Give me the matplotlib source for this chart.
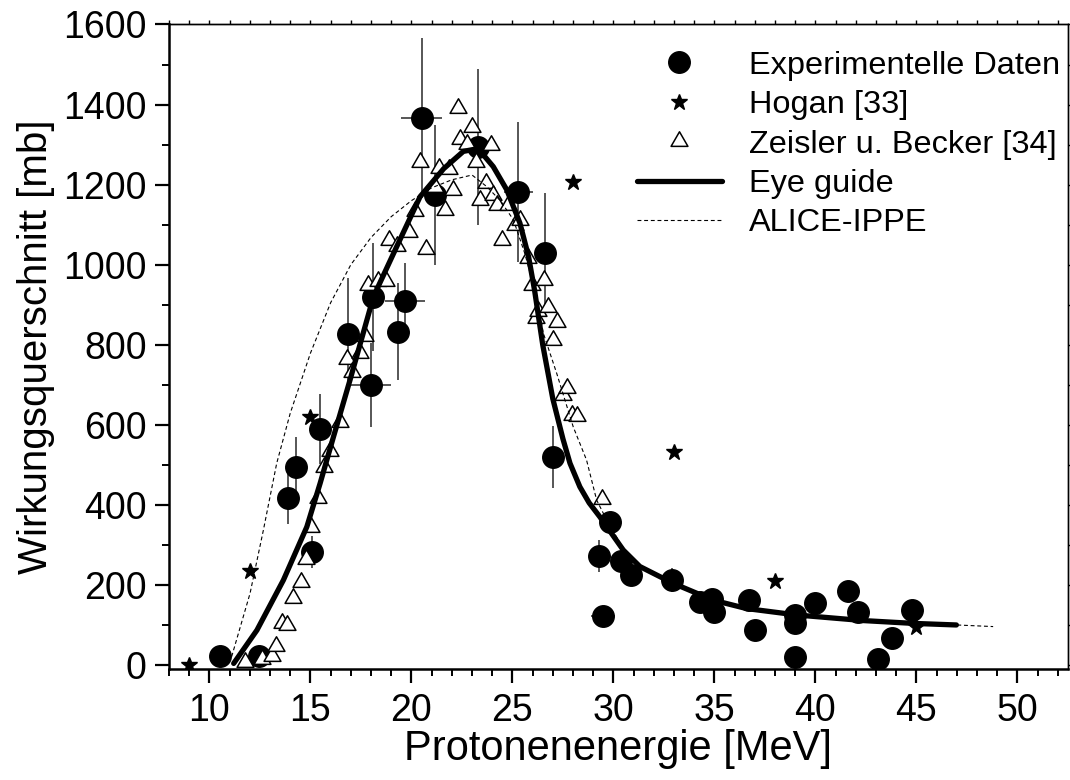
import numpy as np
import matplotlib.pyplot as plt
from matplotlib.path import Path

plt.rcParams['font.family'] = ['Liberation Sans', 'DejaVu Sans']

# Experimentelle Daten (mit Fehlerbalken)
exp_x = [10.5, 12.45, 13.9, 14.27, 15.07, 15.48, 16.87, 18.0, 18.1, 19.33, 19.69,
         20.5, 21.18, 23.3, 25.3, 26.6, 27.0, 29.3, 29.5, 29.82, 30.36, 30.85,
         32.9, 34.28, 34.9, 35.0, 36.7, 37.0, 39.0, 39.0, 39.0, 40.0, 41.6, 42.1,
         43.1, 43.8, 44.8]
exp_y = [22, 22, 416, 494, 283, 590, 826, 700, 920, 833, 910,
         1366, 1174, 1295, 1182, 1030, 520, 272, 122, 358, 260, 225,
         212, 158, 166, 133, 162, 87, 125, 104, 21, 154, 185, 133,
         14, 67, 137]
exp_dy = [0, 0, 65, 75, 40, 88, 140, 105, 135, 120, 95,
          200, 175, 195, 175, 150, 78, 40, 0, 20, 0, 10,
          30, 0, 0, 0, 0, 0, 0, 0, 0, 0, 0, 0,
          0, 0, 0]
exp_dx = [0, 0, 0, 0, 0, 0, 0, 1.0, 0, 0, 1.0,
          1.0, 0, 0, 0.7, 0, 0, 0, 0.6, 0.3, 0, 0,
          0.3, 0, 0, 0, 0, 0, 0, 0, 0, 0, 0, 0,
          0, 0, 0]

# Hogan [33]
hog_x = [9, 12, 15, 28, 33, 38, 45]
hog_y = [0, 236, 619, 1207, 533, 210, 96]

# Zeisler u. Becker [34]
zb_x = [11.77, 12.6, 13.09, 13.29, 13.58, 13.83, 14.16, 14.52, 14.77, 15.05,
        15.39, 15.68, 15.97, 16.47, 16.8, 17.05, 17.43, 17.7, 17.83, 18.32,
        18.73, 18.9, 19.28, 19.89, 20.18, 20.43, 20.72, 21.15, 21.36, 21.66,
        21.86, 22.08, 22.3, 22.4, 22.75, 23.0, 23.19, 23.4, 23.69, 23.94,
        24.02, 24.22, 24.47, 24.79, 25.12, 25.37, 25.79, 25.96, 26.17, 26.28,
        26.58, 26.77, 26.99, 27.19, 27.52, 27.69, 27.93, 28.18, 29.42]
zb_y = [8, 14, 22, 48, 104, 100, 167, 208, 266, 345,
        416, 494, 535, 608, 765, 733, 779, 822, 949, 958,
        958, 1062, 1047, 1082, 1135, 1257, 1038, 1195, 1241, 1137,
        1240, 1187, 1391, 1313, 1302, 1345, 1257, 1162, 1204, 1299,
        1175, 1150, 1062, 1150, 1099, 1112, 1016, 949, 866, 885,
        962, 895, 812, 858, 675, 691, 625, 621, 414]

# Eye guide
eye_x = [11.2, 12.35, 13.66, 14.82, 15.48, 16.14, 16.96, 18.12, 19.27, 20.43,
         21.6, 22.57, 23.3, 24.05, 24.72, 25.37, 25.8, 26.1, 26.5, 27.0,
         27.5, 27.85, 28.34, 28.8, 29.33, 30.49, 31.31, 32.96, 34.94, 36.59,
         39.07, 42.36, 44.83, 46.98]
eye_y = [4, 87, 212, 345, 454, 570, 712, 920, 1045, 1170,
         1240, 1283, 1290, 1245, 1187, 1104, 1020, 935, 800, 665,
         565, 504, 445, 405, 370, 287, 246, 204, 162, 141,
         125, 111, 104, 100]

# ALICE-IPPE
al_x = [11.1, 12.01, 12.67, 13.33, 14.0, 15.0, 16.0, 17.0, 18.0, 19.0,
        20.0, 21.0, 22.0, 23.0, 23.73, 24.4, 25.05, 25.6, 26.2, 26.53,
        27.19, 28.01, 28.67, 29.17, 29.67, 30.5, 31.3, 33.0, 35.0, 36.6,
        39.0, 42.4, 44.8, 47.0, 48.8]
al_y = [21, 179, 337, 504, 629, 779, 905, 1000, 1068, 1120,
        1160, 1192, 1212, 1224, 1195, 1160, 1112, 1030, 920, 829,
        729, 595, 512, 412, 362, 290, 248, 205, 163, 142,
        126, 112, 104, 100, 96]

# gleichseitiges Dreieck als Marker
tri = Path([(0, 0.577), (-0.5, -0.289), (0.5, -0.289), (0, 0.577)],
           [Path.MOVETO, Path.LINETO, Path.LINETO, Path.CLOSEPOLY])

fig = plt.figure(figsize=(10.7, 7.8), dpi=100)
ax = fig.add_axes([0.158, 0.1423, 0.84, 0.8263])

ax.errorbar(exp_x, exp_y, yerr=exp_dy, xerr=exp_dx, fmt='none',
            ecolor='#3a3a3a', elinewidth=1.2, capsize=0, zorder=1)
ax.plot(exp_x, exp_y, 'o', color='black', ms=15.5, ls='none', zorder=2,
        label='Experimentelle Daten')
ax.plot(hog_x, hog_y, '*', color='black', ms=12, ls='none', zorder=3,
        label='Hogan [33]')
ax.plot(zb_x, zb_y, marker=tri, color='black', mfc='white', mew=1.1, ms=14,
        ls='none', zorder=3, label='Zeisler u. Becker [34]')
ax.plot(eye_x, eye_y, '-', color='black', lw=3.8, solid_joinstyle='round',
        solid_capstyle='round', zorder=4, label='Eye guide')
ax.plot(al_x, al_y, color='black', lw=0.8, dashes=(3.5, 2.5), zorder=4,
        label='ALICE-IPPE')

ax.set_xlim(8, 52.5)
ax.set_ylim(-10, 1600)
ax.set_xticks(np.arange(10, 51, 5))
ax.set_xticks(np.arange(8, 53, 1), minor=True)
ax.set_yticks(np.arange(0, 1601, 200))
ax.set_yticks(np.arange(0, 1601, 100), minor=True)

for side in ['left', 'bottom']:
    ax.spines[side].set_linewidth(1.8)
for side in ['top', 'right']:
    ax.spines[side].set_linewidth(1.0)

ax.tick_params(axis='both', which='major', direction='out', length=10,
               width=1.6, labelsize=27)
ax.tick_params(axis='both', which='minor', direction='out', length=5, width=1.4)
ax.tick_params(axis='x', pad=7)
ax.tick_params(axis='y', pad=6)

# kurze Ticks oben und rechts, ohne Beschriftung
top = ax.secondary_xaxis('top')
top.set_xticks(np.arange(10, 51, 5))
top.set_xticks(np.arange(8, 53, 1), minor=True)
top.tick_params(which='both', direction='out', length=3, width=1, labeltop=False)
top.spines['top'].set_linewidth(1.0)
right = ax.secondary_yaxis('right')
right.set_yticks(np.arange(0, 1601, 200))
right.set_yticks(np.arange(0, 1601, 100), minor=True)
right.tick_params(which='both', direction='out', length=3, width=1, labelright=False)
right.spines['right'].set_linewidth(1.0)

ax.set_xlabel('Protonenenergie [MeV]', fontsize=30, labelpad=0)
ax.set_ylabel('Wirkungsquerschnitt [mb]', fontsize=29, labelpad=6)

ax.legend(loc='upper right', bbox_to_anchor=(1.0, 0.972), frameon=False,
          fontsize=23.4, handlelength=2.6, handletextpad=0.83, labelspacing=0.29,
          borderaxespad=0.0, borderpad=0.25)

fig.savefig('out.png', dpi=100)
